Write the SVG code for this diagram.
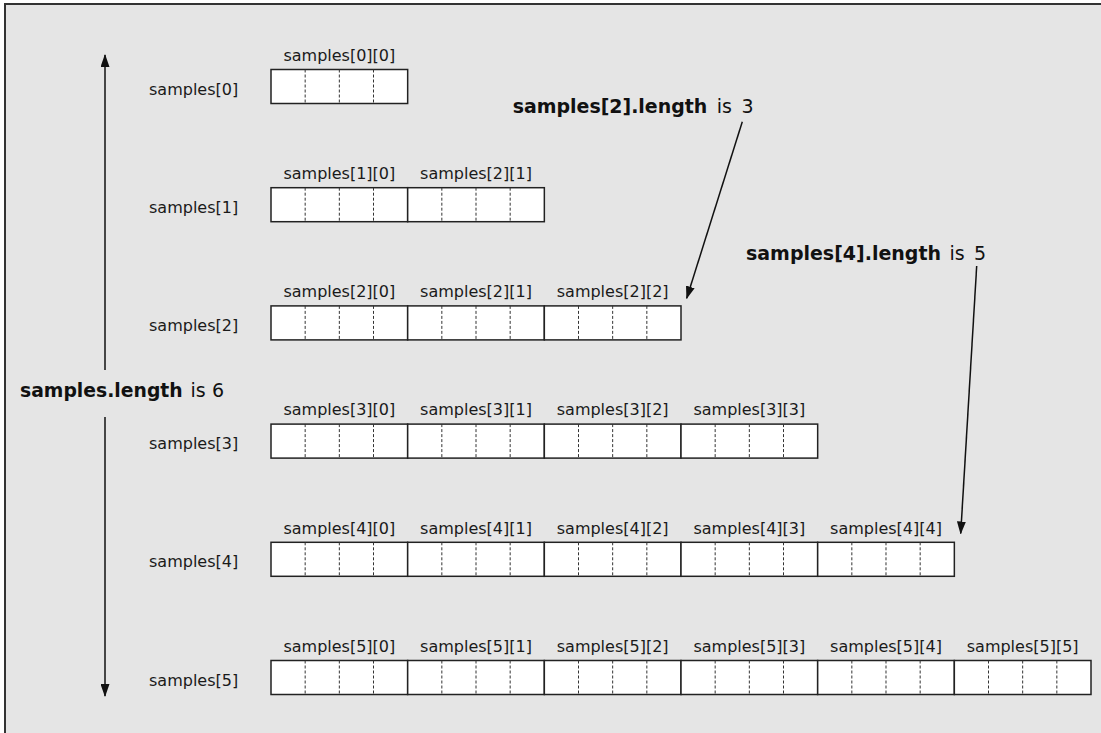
<svg xmlns="http://www.w3.org/2000/svg" width="1101" height="733" viewBox="0 0 1101 733">
<style>
.lbl{font-family:"DejaVu Sans",Verdana,sans-serif;font-size:16px;fill:#1a1a1a}
.idx{text-anchor:middle}
.big{font-family:"DejaVu Sans",Verdana,sans-serif;font-size:19px;fill:#111}
.b{font-weight:bold}
.conn{stroke:#111;stroke-width:1.5;fill:none}
</style>
<defs>
<marker id="ah" markerUnits="userSpaceOnUse" markerWidth="13" markerHeight="9" refX="12" refY="4.5" orient="auto">
<path d="M0,0 L13,4.5 L0,9 z" fill="#111"/>
</marker>
<g id="cg">
<rect x="0" y="0" width="136.67" height="34" fill="#fff" stroke="#222" stroke-width="1.5"/>
<path d="M34.17 0V34M68.33 0V34M102.5 0V34" stroke="#333" stroke-width="1" stroke-dasharray="3 2"/>
</g>
</defs>
<rect x="5" y="4" width="1110" height="745" fill="#e5e5e5" stroke="#333" stroke-width="2"/>

<g id="row0">
<text class="lbl" x="149" y="94.5">samples[0]</text>
<use href="#cg" x="271" y="69.5"/>
<text class="lbl idx" x="339.33" y="60.8">samples[0][0]</text>
</g>
<g id="row1">
<text class="lbl" x="149" y="212.7">samples[1]</text>
<use href="#cg" x="271" y="187.7"/><use href="#cg" x="407.67" y="187.7"/>
<text class="lbl idx" x="339.33" y="179">samples[1][0]</text>
<text class="lbl idx" x="476" y="179">samples[2][1]</text>
</g>
<g id="row2">
<text class="lbl" x="149" y="330.9">samples[2]</text>
<use href="#cg" x="271" y="305.9"/><use href="#cg" x="407.67" y="305.9"/><use href="#cg" x="544.33" y="305.9"/>
<text class="lbl idx" x="339.33" y="297.2">samples[2][0]</text>
<text class="lbl idx" x="476" y="297.2">samples[2][1]</text>
<text class="lbl idx" x="612.67" y="297.2">samples[2][2]</text>
</g>
<g id="row3">
<text class="lbl" x="149" y="449.1">samples[3]</text>
<use href="#cg" x="271" y="424.1"/><use href="#cg" x="407.67" y="424.1"/><use href="#cg" x="544.33" y="424.1"/><use href="#cg" x="681" y="424.1"/>
<text class="lbl idx" x="339.33" y="415.4">samples[3][0]</text>
<text class="lbl idx" x="476" y="415.4">samples[3][1]</text>
<text class="lbl idx" x="612.67" y="415.4">samples[3][2]</text>
<text class="lbl idx" x="749.33" y="415.4">samples[3][3]</text>
</g>
<g id="row4">
<text class="lbl" x="149" y="567.3">samples[4]</text>
<use href="#cg" x="271" y="542.3"/><use href="#cg" x="407.67" y="542.3"/><use href="#cg" x="544.33" y="542.3"/><use href="#cg" x="681" y="542.3"/><use href="#cg" x="817.67" y="542.3"/>
<text class="lbl idx" x="339.33" y="533.6">samples[4][0]</text>
<text class="lbl idx" x="476" y="533.6">samples[4][1]</text>
<text class="lbl idx" x="612.67" y="533.6">samples[4][2]</text>
<text class="lbl idx" x="749.33" y="533.6">samples[4][3]</text>
<text class="lbl idx" x="886" y="533.6">samples[4][4]</text>
</g>
<g id="row5">
<text class="lbl" x="149" y="685.5">samples[5]</text>
<use href="#cg" x="271" y="660.5"/><use href="#cg" x="407.67" y="660.5"/><use href="#cg" x="544.33" y="660.5"/><use href="#cg" x="681" y="660.5"/><use href="#cg" x="817.67" y="660.5"/><use href="#cg" x="954.33" y="660.5"/>
<text class="lbl idx" x="339.33" y="651.8">samples[5][0]</text>
<text class="lbl idx" x="476" y="651.8">samples[5][1]</text>
<text class="lbl idx" x="612.67" y="651.8">samples[5][2]</text>
<text class="lbl idx" x="749.33" y="651.8">samples[5][3]</text>
<text class="lbl idx" x="886" y="651.8">samples[5][4]</text>
<text class="lbl idx" x="1022.67" y="651.8">samples[5][5]</text>
</g>

<g id="len-outer">
<text class="big" y="397.3"><tspan class="b" x="20" textLength="162.7" lengthAdjust="spacingAndGlyphs">samples.length</tspan><tspan x="190.5">is</tspan><tspan x="212">6</tspan></text>
</g>
<g id="len2">
<text class="big" y="113.3"><tspan class="b" x="512.7" textLength="194.6" lengthAdjust="spacingAndGlyphs">samples[2].length</tspan><tspan x="716.8">is</tspan><tspan x="741.5">3</tspan></text>
</g>
<g id="len4">
<text class="big" y="260"><tspan class="b" x="746" textLength="195" lengthAdjust="spacingAndGlyphs">samples[4].length</tspan><tspan x="949.5">is</tspan><tspan x="974">5</tspan></text>
</g>

<g id="connectors">
<line class="conn" x1="105" y1="370" x2="105" y2="55" marker-end="url(#ah)"/>
<line class="conn" x1="105" y1="417" x2="105" y2="696" marker-end="url(#ah)"/>
<line class="conn" x1="742.3" y1="121.7" x2="686.7" y2="298.3" marker-end="url(#ah)"/>
<line class="conn" x1="976.7" y1="266" x2="960.7" y2="533.5" marker-end="url(#ah)"/>
</g>
</svg>
